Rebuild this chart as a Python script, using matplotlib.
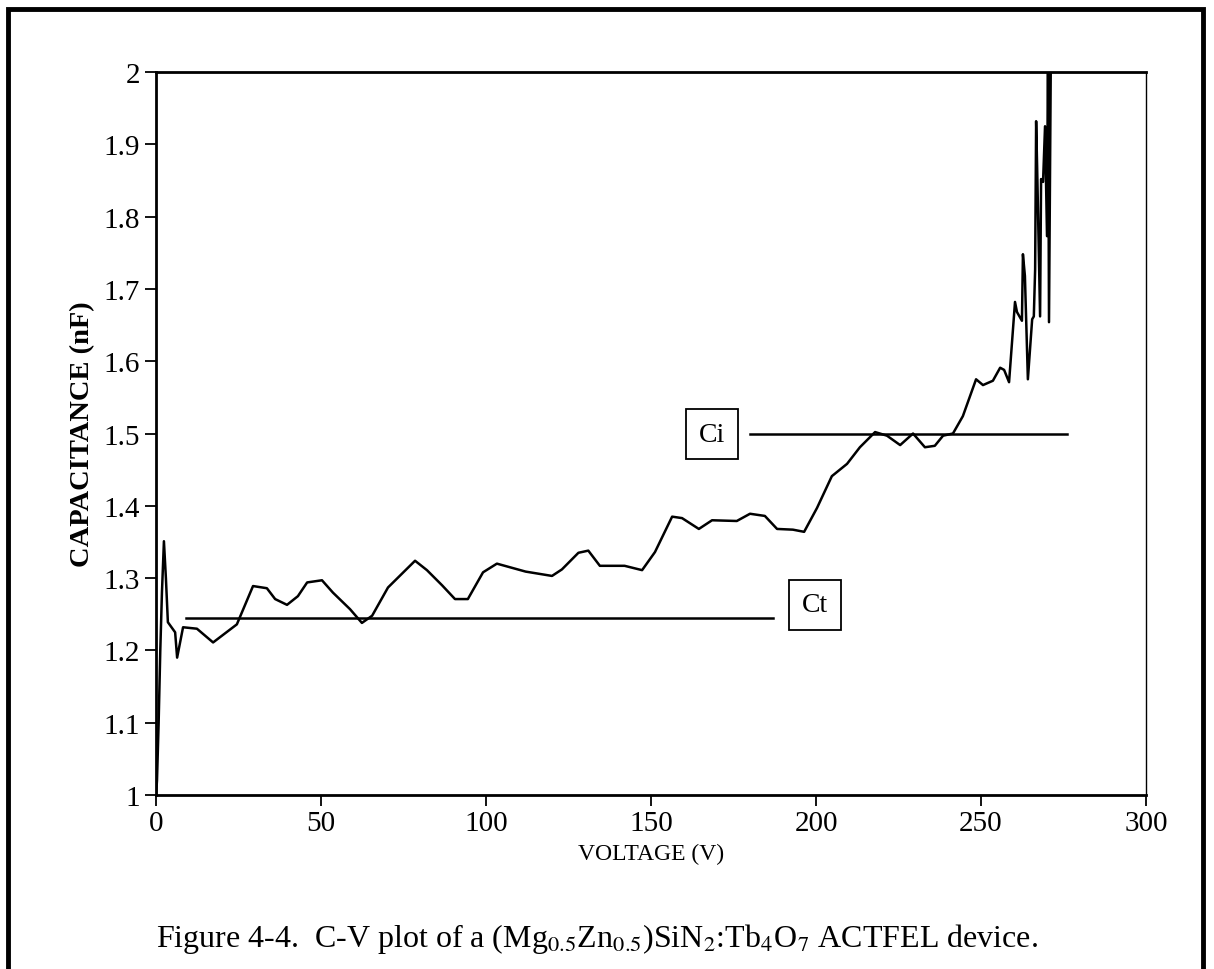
import matplotlib
matplotlib.use("Agg")
import matplotlib.pyplot as plt
from matplotlib.patches import Rectangle

# C-V data
voltage = [0.0, 0.3, 0.8, 1.3, 1.8, 2.4, 3.0, 3.6, 5.8, 6.4, 8.2, 12.4, 17.3, 24.5,
           29.4, 33.6, 36.1, 39.7, 43.0, 45.8, 50.3, 53.6, 58.8, 62.4, 65.5, 70.3,
           78.5, 82.1, 86.7, 90.6, 94.5, 99.1, 103.3, 112.0, 120.0, 123.0, 128.0,
           131.0, 134.5, 142.0, 147.3, 151.2, 156.4, 159.4, 164.5, 168.5, 176.0,
           180.0, 184.5, 188.2, 193.0, 196.4, 200.3, 204.8, 209.4, 213.3, 217.9,
           221.5, 225.5, 229.4, 233.0, 236.0, 238.5, 241.5, 244.5, 248.5, 250.6,
           253.6, 255.8, 257.0, 258.5, 260.3, 260.9, 262.4, 262.7, 263.3, 264.2,
           265.5, 266.0, 266.4, 266.7, 267.0, 267.9, 268.2, 268.8, 269.4, 270.0,
           270.3, 270.6, 271.2]
capacitance = [1.0, 1.02, 1.1, 1.2, 1.28, 1.351, 1.30, 1.239, 1.225, 1.19, 1.232,
               1.230, 1.211, 1.236, 1.289, 1.286, 1.271, 1.263, 1.275, 1.294, 1.297,
               1.280, 1.257, 1.238, 1.248, 1.287, 1.324, 1.311, 1.290, 1.271, 1.271,
               1.308, 1.320, 1.309, 1.303, 1.312, 1.335, 1.338, 1.317, 1.317, 1.311,
               1.336, 1.385, 1.383, 1.368, 1.380, 1.379, 1.389, 1.386, 1.368, 1.367,
               1.364, 1.397, 1.441, 1.458, 1.481, 1.502, 1.497, 1.484, 1.500, 1.481,
               1.483, 1.497, 1.500, 1.524, 1.575, 1.567, 1.573, 1.591, 1.588, 1.571,
               1.682, 1.668, 1.656, 1.748, 1.718, 1.575, 1.658, 1.662, 1.727, 1.932,
               1.870, 1.662, 1.852, 1.848, 1.925, 1.773, 2.05, 1.654, 2.05]

# reference levels
ct_level = 1.245
ct_span = [9, 187]
ci_level = 1.5
ci_span = [180, 276]

xticks = [0, 50, 100, 150, 200, 250, 300]
yticks = [1, 1.1, 1.2, 1.3, 1.4, 1.5, 1.6, 1.7, 1.8, 1.9, 2]
ytick_labels = ["1", "1.1", "1.2", "1.3", "1.4", "1.5", "1.6", "1.7", "1.8", "1.9", "2"]

plt.rcParams["font.family"] = ["Liberation Serif", "DejaVu Serif"]
plt.rcParams["mathtext.fontset"] = "stix"

fig = plt.figure(figsize=(12.14, 9.70), dpi=100)
ax = fig.add_axes([0.1285, 0.1794, 0.8155, 0.7453])

ax.plot(voltage, capacitance, color="black", lw=1.8, clip_on=True)
ax.plot(ct_span, [ct_level, ct_level], color="black", lw=1.8)
ax.plot(ci_span, [ci_level, ci_level], color="black", lw=1.8)

box = dict(boxstyle="square,pad=0.45", facecolor="white", edgecolor="black", lw=1.3)
ax.text(199.7, 1.263, "Ct", fontsize=20, ha="center", va="center", bbox=box)
ax.text(168.5, 1.499, "Ci", fontsize=20, ha="center", va="center", bbox=box)

ax.set_xlim(0, 300)
ax.set_ylim(1, 2)
ax.set_xticks(xticks)
ax.set_yticks(yticks)
ax.set_yticklabels(ytick_labels)
ax.tick_params(direction="out", length=8, width=1.3, labelsize=21, colors="black")
ax.tick_params(axis="x", pad=3)
for side in ["left", "bottom", "top"]:
    ax.spines[side].set_linewidth(2)
ax.spines["right"].set_linewidth(1)

ax.set_xlabel("VOLTAGE (V)", fontsize=17, labelpad=5)
ax.set_ylabel("CAPACITANCE (nF)", fontsize=20.5, fontweight="bold", labelpad=6)

# page frame around the figure
fig.patches.append(Rectangle((8 / 1214, -0.05), (1203 - 8) / 1214, 1.05 - 10 / 970,
                             transform=fig.transFigure, fill=False,
                             edgecolor="black", lw=3.5))

fig.text(0.492, 0.024,
         r"Figure 4-4.  C-V plot of a (Mg$_{0.5}$Zn$_{0.5}$)SiN$_2$:Tb$_4$O$_7$ ACTFEL device.",
         fontsize=23, ha="center", va="baseline")

fig.savefig("out.png", dpi=100)
